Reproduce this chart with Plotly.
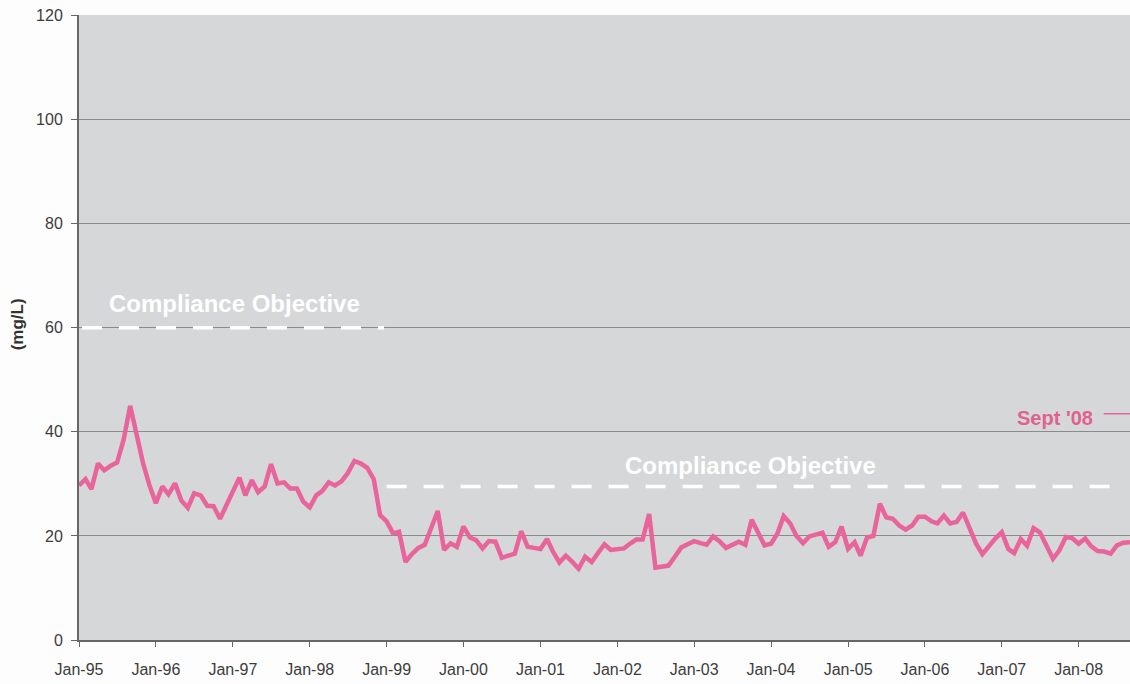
import pandas as pd
import plotly.graph_objects as go


LINE_COLOR = "#e8649a"
PLOT_BG = "#d6d7d8"
GRID_COLOR = "#8a8b8c"
TEXT_COLOR = "#3c3c3c"
FONT = "Liberation Sans, Arial"

months = pd.date_range("1995-01-01", "2008-09-01", freq="MS")

values = [
    # 1995
    29.7, 30.9, 29.0, 33.9, 32.6, 33.5, 34.1, 38.5, 45.0, 39.8, 34.0, 29.8,
    # 1996
    26.3, 29.5, 28.0, 30.1, 26.8, 25.4, 28.2, 27.8, 25.8, 25.7, 23.3, 25.9,
    # 1997
    28.6, 31.2, 27.8, 30.7, 28.4, 29.5, 33.8, 30.1, 30.3, 29.1, 29.1, 26.6,
    # 1998
    25.5, 27.8, 28.6, 30.3, 29.7, 30.5, 32.1, 34.4, 33.9, 33.1, 30.9, 24.0,
    # 1999
    22.8, 20.5, 20.8, 15.0, 16.5, 17.7, 18.3, 21.5, 24.8, 17.3, 18.6, 17.9,
    # 2000
    21.8, 19.7, 19.2, 17.6, 19.0, 18.9, 15.8, 16.2, 16.6, 20.9, 17.9, 17.7,
    # 2001
    17.5, 19.4, 17.0, 14.9, 16.2, 15.0, 13.7, 16.0, 15.0, 16.7, 18.4, 17.3,
    # 2002
    17.5, 17.6, 18.5, 19.3, 19.3, 24.2, 13.9, 14.1, 14.3, 16.0, 17.8, 18.4,
    # 2003
    19.0, 18.6, 18.3, 19.9, 19.0, 17.7, 18.4, 18.9, 18.3, 23.1, 20.6, 18.2,
    # 2004
    18.5, 20.5, 23.8, 22.4, 20.0, 18.6, 19.9, 20.2, 20.6, 17.9, 18.8, 21.8,
    # 2005
    17.5, 18.8, 16.2, 19.7, 20.0, 26.2, 23.6, 23.3, 22.0, 21.2, 22.0, 23.7,
    # 2006
    23.7, 22.8, 22.4, 23.9, 22.4, 22.7, 24.5, 21.5, 18.5, 16.5, 18.2, 19.5,
    # 2007
    20.7, 17.5, 16.7, 19.4, 18.1, 21.5, 20.7, 18.0, 15.6, 17.2, 19.8, 19.6,
    # 2008
    18.5, 19.5, 18.0, 17.1, 17.0, 16.6, 18.2, 18.7, 18.8,
]

objective_dates_1 = ["1995-01-15", "1998-12-20"]
objective_values_1 = [60, 60]
objective_dates_2 = ["1999-01-01", "2008-07-25"]
objective_values_2 = [29.5, 29.5]

tick_dates = pd.date_range("1995-01-01", "2008-01-01", freq="YS")
y_ticks = [0, 20, 40, 60, 80, 100, 120]

fig = go.Figure()

for dates, vals in [(objective_dates_1, objective_values_1), (objective_dates_2, objective_values_2)]:
    fig.add_trace(
        go.Scatter(
            x=dates,
            y=vals,
            mode="lines",
            line=dict(color="#ffffff", width=3.5, dash="20px,17px"),
            hoverinfo="skip",
            showlegend=False,
        )
    )

fig.add_trace(
    go.Scatter(
        x=months,
        y=values,
        mode="lines",
        line=dict(color=LINE_COLOR, width=4.5),
        showlegend=False,
        hovertemplate="%{x|%b-%y}: %{y} mg/L<extra></extra>",
    )
)

label_font = dict(family=FONT, size=24, color="#ffffff")
fig.add_annotation(
    x=0.148, y=0.539, xref="paper", yref="paper", xanchor="center", yanchor="middle",
    text="<b>Compliance Objective</b>", showarrow=False, font=label_font,
)
fig.add_annotation(
    x=0.639, y=0.280, xref="paper", yref="paper", xanchor="center", yanchor="middle",
    text="<b>Compliance Objective</b>", showarrow=False, font=label_font,
)
fig.add_annotation(
    x=0.929, y=0.356, xref="paper", yref="paper", xanchor="center", yanchor="middle",
    text="<b>Sept '08</b>", showarrow=False,
    font=dict(family=FONT, size=20, color="#e0628f"),
)
fig.add_shape(
    type="line", xref="paper", yref="paper",
    x0=0.975, x1=1.0, y0=0.362, y1=0.362,
    line=dict(color=LINE_COLOR, width=1.5),
)
fig.add_annotation(
    x=-0.059, y=0.505, xref="paper", yref="paper", xanchor="center", yanchor="middle",
    text="<b>(mg/L)</b>", textangle=-90, showarrow=False,
    font=dict(family=FONT, size=17, color="#333333"),
)

fig.update_xaxes(
    range=["1995-01-01", "2008-09-01"],
    tickvals=tick_dates,
    tickformat="%b-%y",
    ticks="outside",
    ticklen=5,
    tickcolor="#666666",
    ticklabelstandoff=9,
    showgrid=False,
    showline=True,
    linecolor="#666666",
    linewidth=2,
    tickfont=dict(family=FONT, size=16, color=TEXT_COLOR),
)
fig.update_yaxes(
    range=[0, 120.1],
    tickvals=y_ticks,
    ticks="outside",
    ticklen=6,
    tickcolor="#666666",
    ticklabelstandoff=5,
    ticklabeloverflow="allow",
    showgrid=True,
    gridcolor=GRID_COLOR,
    gridwidth=1,
    zeroline=False,
    showline=True,
    linecolor="#666666",
    linewidth=2,
    tickfont=dict(family=FONT, size=16, color=TEXT_COLOR),
)
fig.update_layout(
    width=1130,
    height=684,
    plot_bgcolor=PLOT_BG,
    paper_bgcolor="#fdfdfd",
    margin=dict(l=79, r=0, t=15, b=44),
    showlegend=False,
)

# full-window chart: drop the default body margin and any scrollbars
fig.write_html(
    "out.html",
    config={"displayModeBar": False},
    post_script="document.body.style.margin='0';document.body.style.overflow='hidden';",
)
